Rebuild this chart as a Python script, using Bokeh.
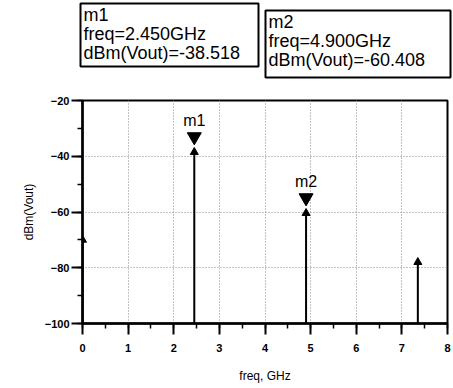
from bokeh.plotting import figure
from bokeh.layouts import column
from bokeh.models import Label, FixedTicker, ColumnDataSource
from bokeh.core.properties import value
from bokeh.embed import file_html
from bokeh.resources import INLINE

# Spectrum data
freq_ghz = [0.0, 2.45, 4.9, 7.35]
dbm_vout = [-70.0, -38.518, -60.408, -78.0]

# Markers
marker_names = ["m1", "m2"]
marker_freq = [2.45, 4.9]
marker_val = [-38.518, -60.408]

x_ticks = [0, 1, 2, 3, 4, 5, 6, 7, 8]
y_ticks = [-100, -80, -60, -40, -20]

FONT = "Liberation Sans"
W = 453
TOP_H = 92

# ---------- readout boxes strip (pixel coordinates, y measured upward) ----------
top = figure(width=W, height=TOP_H, x_range=(0, W), y_range=(0, TOP_H),
             output_backend="svg", toolbar_location=None,
             min_border=0, min_border_left=0, min_border_right=0,
             min_border_top=0, min_border_bottom=0)
top.frame_align = False
top.axis.visible = False
top.grid.visible = False
top.outline_line_color = None
top.background_fill_color = "white"
top.border_fill_color = "white"

box_left = [80, 265]
box_right = [258, 450]
box_top = [TOP_H - 3, TOP_H - 10]
box_bottom = [TOP_H - 66, TOP_H - 77]
top.quad(left=box_left, right=box_right, top=box_top, bottom=box_bottom,
         fill_color="white", line_color="black", line_width=2)
for bl, bt, n, fx, v in zip(box_left, box_top, marker_names, marker_freq, marker_val):
    lines = [n, f"freq={fx:.3f}GHz", f"dBm(Vout)={v:.3f}"]
    top.text(x=[bl + 3] * 3, y=[bt - 1 - 19 * i for i in range(3)], text=lines,
             text_align="left", text_baseline="top", text_font=value(FONT),
             text_font_size="18px", text_color="black")

# ---------- spectrum plot ----------
p = figure(width=W, height=388 - TOP_H, x_range=(0, 8), y_range=(-100, -20),
           output_backend="svg", toolbar_location=None,
           min_border_left=82, min_border_right=6, min_border_top=100 - TOP_H,
           min_border_bottom=65)
p.frame_align = False
p.background_fill_color = "white"
p.border_fill_color = "white"
p.outline_line_color = "black"
p.outline_line_width = 2

for ax in (p.xaxis[0], p.yaxis[0]):
    ax.axis_line_width = 2.5
    ax.axis_line_color = "black"
    ax.major_tick_line_width = 2
    ax.major_tick_out = 11
    ax.major_tick_in = 0
    ax.minor_tick_line_width = 1.5
    ax.minor_tick_out = 5
    ax.minor_tick_in = 0
    ax.major_label_text_font = FONT
    ax.major_label_text_font_style = "bold"
    ax.major_label_text_font_size = "11px"
    ax.major_label_text_color = "black"
    ax.axis_label_text_font = FONT
    ax.axis_label_text_font_style = "normal"
    ax.axis_label_text_font_size = "12px"
    ax.axis_label_text_color = "black"

p.xaxis.ticker = FixedTicker(ticks=x_ticks, minor_ticks=[i * 0.5 for i in range(17)])
p.yaxis.ticker = FixedTicker(ticks=y_ticks, minor_ticks=list(range(-100, -19, 10)))
p.xaxis.axis_label = "freq, GHz"
p.yaxis.axis_label = "dBm(Vout)"
p.xaxis.major_label_standoff = 9
p.yaxis.major_label_standoff = 2
p.xaxis.axis_label_standoff = 14
p.yaxis.axis_label_standoff = 6

p.xgrid.grid_line_color = "#888888"
p.xgrid.grid_line_dash = "1 2"
p.xgrid.grid_line_width = 1
p.ygrid.grid_line_color = "#888888"
p.ygrid.grid_line_dash = "1 2"
p.ygrid.grid_line_width = 1

src = ColumnDataSource(dict(x=freq_ghz, y=dbm_vout, base=[-100] * len(freq_ghz)))
p.segment(x0="x", y0="base", x1="x", y1="y", source=src, line_color="black", line_width=2)
p.scatter(x="x", y="y", source=src, marker="triangle", size=8, color="black")

# marker glyphs (inverted triangles above the tips), lifted by 5.5 dB for display
MARK_LIFT = 5.5
msrc = ColumnDataSource(dict(x=marker_freq, y=[v + MARK_LIFT for v in marker_val]))
p.scatter(x="x", y="y", source=msrc, marker="inverted_triangle", size=14, color="black")
for n, fx, v in zip(marker_names, marker_freq, marker_val):
    p.add_layout(Label(x=fx, y=v, text=n, text_align="center", text_baseline="bottom",
                       y_offset=23, text_font=FONT, text_font_size="16px", text_color="black"))

layout = column(top, p, spacing=0)
open("out.html", "w").write(file_html(layout, INLINE))
